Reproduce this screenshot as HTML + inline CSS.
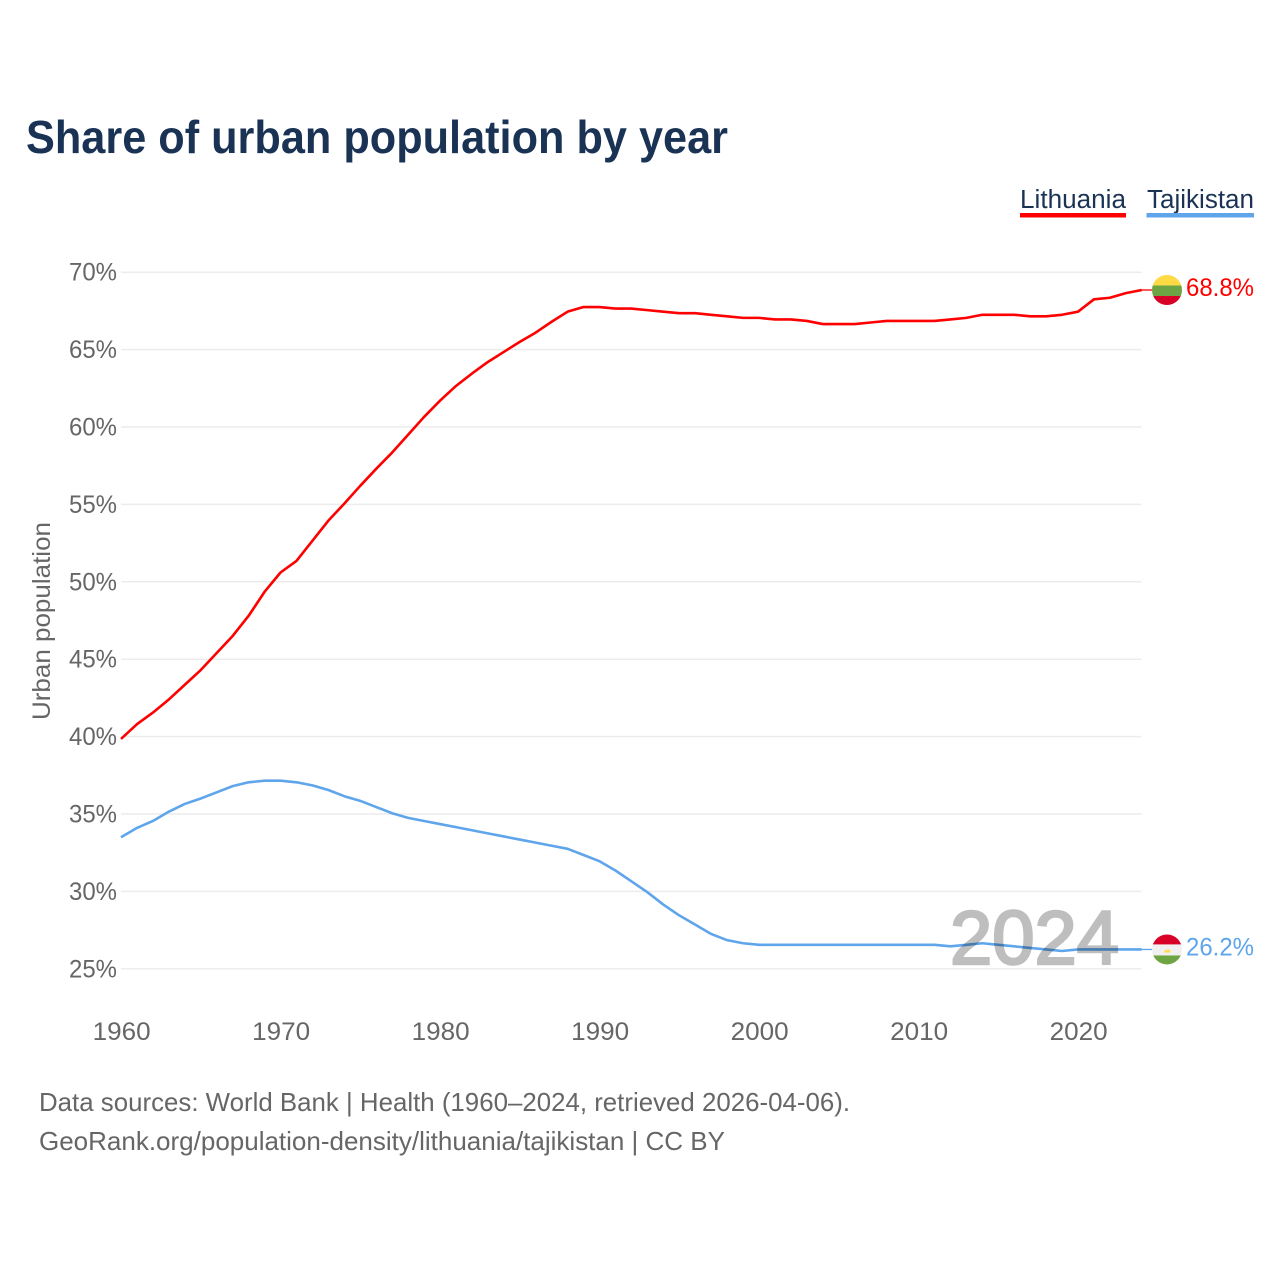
<!DOCTYPE html>
<html lang="en">
<head>
<meta charset="utf-8">
<title>Share of urban population by year</title>
<style>
html,body{margin:0;padding:0;background:#fff;width:1280px;height:1280px;overflow:hidden}
svg{display:block}
text{font-family:"Liberation Sans",sans-serif}
</style>
</head>
<body>
<svg id="chart" width="1280" height="1280" viewBox="0 0 1280 1280" xmlns="http://www.w3.org/2000/svg">
  <defs>
    <clipPath id="clip-lt"><circle id="clip-lt-c" cx="1167" cy="290" r="15"/></clipPath>
    <clipPath id="clip-tj"><circle id="clip-tj-c" cx="1167" cy="949" r="15"/></clipPath>
  </defs>
  <text x="26" y="153" font-size="46" font-weight="700" fill="#1a3355" textLength="702" lengthAdjust="spacingAndGlyphs">Share of urban population by year</text>

  <g>
    <g>
      <text x="1020" y="208" font-size="25.5" fill="#1a3355" textLength="106" lengthAdjust="spacingAndGlyphs">Lithuania</text>
      <rect x="1020" y="213" width="106" height="4.5" fill="#ff0000"/>
    </g>
    <g>
      <text x="1147" y="208" font-size="25.5" fill="#1a3355" textLength="107" lengthAdjust="spacingAndGlyphs">Tajikistan</text>
      <rect x="1146.5" y="213" width="107.5" height="4.5" fill="#5fa5eb"/>
    </g>
  </g>

  <text transform="translate(50,720) rotate(-90)" x="0" y="0" font-size="25" fill="#666666" textLength="198" lengthAdjust="spacingAndGlyphs">Urban population</text>

  <g id="grid"></g>
  <g id="y-ticks"></g>
  <g id="x-ticks"></g>
  <g id="lines"></g>

  <text x="950" y="964" font-size="76" font-weight="400" fill="#000000" stroke="#000000" stroke-width="2.6" opacity="0.25" textLength="169" lengthAdjust="spacingAndGlyphs">2024</text>

  <g id="flag-lt" clip-path="url(#clip-lt)">
    <rect x="1152" y="275" width="30" height="10.5" fill="#ffda44"/>
    <rect x="1152" y="285.5" width="30" height="10.5" fill="#6da544"/>
    <rect x="1152" y="296" width="30" height="10" fill="#d80027"/>
  </g>
  <g id="flag-tj" clip-path="url(#clip-tj)">
    <rect x="1152" y="934" width="30" height="10.5" fill="#d80027"/>
    <rect x="1152" y="944.5" width="30" height="11" fill="#f0f0f0"/>
    <rect x="1152" y="955.5" width="30" height="10" fill="#6da544"/>
    <path d="M1164 952.5h6l.8-3-1.8 1.2-1-2-1 2-1.8-1.2z" fill="#ffda44"/>
  </g>

  <text id="label-lt" x="1186" y="296" font-size="25" fill="#ff0000" textLength="68" lengthAdjust="spacingAndGlyphs"></text>
  <text id="label-tj" x="1186" y="955" font-size="25" fill="#5fa5eb" textLength="68" lengthAdjust="spacingAndGlyphs"></text>

  <text x="39" y="1111" font-size="26" fill="#666666" textLength="811" lengthAdjust="spacingAndGlyphs">Data sources: World Bank | Health (1960–2024, retrieved 2026-04-06).</text>
  <text x="39" y="1150" font-size="26" fill="#666666" textLength="686" lengthAdjust="spacingAndGlyphs">GeoRank.org/population-density/lithuania/tajikistan | CC BY</text>
</svg>
<script>
const firstYear = 1960;
const yTickValues = [25, 30, 35, 40, 45, 50, 55, 60, 65, 70];
const xTickValues = [1960, 1970, 1980, 1990, 2000, 2010, 2020];
const lithuaniaValues = [
  39.85, 40.8, 41.55, 42.4, 43.35, 44.3, 45.4, 46.5, 47.8, 49.35,
  50.6, 51.35, 52.65, 53.95, 55.05, 56.2, 57.3, 58.35, 59.5, 60.65,
  61.7, 62.65, 63.45, 64.2, 64.85, 65.5, 66.1, 66.8, 67.45, 67.75,
  67.75, 67.65, 67.65, 67.55, 67.45, 67.35, 67.35, 67.25, 67.15, 67.05,
  67.05, 66.95, 66.95, 66.85, 66.65, 66.65, 66.65, 66.75, 66.85, 66.85,
  66.85, 66.85, 66.95, 67.05, 67.25, 67.25, 67.25, 67.15, 67.15, 67.25,
  67.45, 68.25, 68.35, 68.65, 68.85
];
const tajikistanValues = [
  33.5, 34.1, 34.55, 35.15, 35.65, 36.0, 36.4, 36.8, 37.05, 37.15,
  37.15, 37.05, 36.85, 36.55, 36.15, 35.85, 35.45, 35.05, 34.75, 34.55,
  34.35, 34.15, 33.95, 33.75, 33.55, 33.35, 33.15, 32.95, 32.75, 32.35,
  31.95, 31.35, 30.65, 29.95, 29.15, 28.45, 27.85, 27.25, 26.85, 26.65,
  26.55, 26.55, 26.55, 26.55, 26.55, 26.55, 26.55, 26.55, 26.55, 26.55,
  26.55, 26.55, 26.45, 26.55, 26.65, 26.55, 26.45, 26.35, 26.25, 26.15,
  26.25, 26.25, 26.25, 26.25, 26.25
];
const endLabels = ["68.8%", "26.2%"];

const NS = 'http://www.w3.org/2000/svg';
function xScale(year) { return 121 + (year - firstYear) * 15.95; }
function yScale(value) { return 968.8 - (value - 25) * 15.48; }
function make(tag, parent, props) {
  const el = document.createElementNS(NS, tag);
  for (const k in props) el.setAttribute(k, props[k]);
  parent.appendChild(el);
  return el;
}

const gridGroup = document.getElementById('grid');
const yGroup = document.getElementById('y-ticks');
const xGroup = document.getElementById('x-ticks');
const lineGroup = document.getElementById('lines');

yTickValues.forEach(function (v) {
  const line = make('line', gridGroup, { x1: 121, x2: 1141.5, y1: yScale(v), y2: yScale(v), stroke: '#ececec', 'stroke-width': 1.5 });
  
  
  const t = make('text', yGroup, { x: 117, y: yScale(v) + 8.5, 'font-size': 25, fill: '#666666', 'text-anchor': 'end', textLength: 48, lengthAdjust: 'spacingAndGlyphs' });
  
  
  t.textContent = v + '%';
});

xTickValues.forEach(function (year) {
  const t = make('text', xGroup, { x: xScale(year) + 0.7, y: 1040, 'font-size': 25, fill: '#666666', 'text-anchor': 'middle', textLength: 58, lengthAdjust: 'spacingAndGlyphs' });
  
  
  t.textContent = year;
});

function drawSeries(values, color, name) {
  const pts = values.map(function (v, i) { return xScale(firstYear + i).toFixed(2) + ',' + yScale(v).toFixed(2); });
  const line = make('polyline', lineGroup, { points: pts.join(' '), fill: 'none', stroke: color, 'stroke-width': 2.6, 'stroke-linejoin': 'round' });
  
  
  const last = values[values.length - 1];
  const conn = make('line', lineGroup, { x1: xScale(firstYear + values.length - 1), x2: 1152, y1: yScale(last), y2: yScale(last), stroke: color, 'stroke-width': 1.3 });
  
  
}
drawSeries(lithuaniaValues, '#ff0000', 'lithuania-line');
drawSeries(tajikistanValues, '#5fa5eb', 'tajikistan-line');

function placeEnd(values, flagId, clipId, labelId, text) {
  const y = yScale(values[values.length - 1]);
  const base = flagId === 'flag-lt' ? 290 : 949.5;
  document.getElementById(clipId).setAttribute('cy', base);
  document.getElementById(flagId).setAttribute('transform', 'translate(0,' + (y - base).toFixed(2) + ')');
  const label = document.getElementById(labelId);
  label.setAttribute('y', (y + 6).toFixed(2));
  label.textContent = text;
}
placeEnd(lithuaniaValues, 'flag-lt', 'clip-lt-c', 'label-lt', endLabels[0]);
placeEnd(tajikistanValues, 'flag-tj', 'clip-tj-c', 'label-tj', endLabels[1]);
</script>
</body>
</html>
